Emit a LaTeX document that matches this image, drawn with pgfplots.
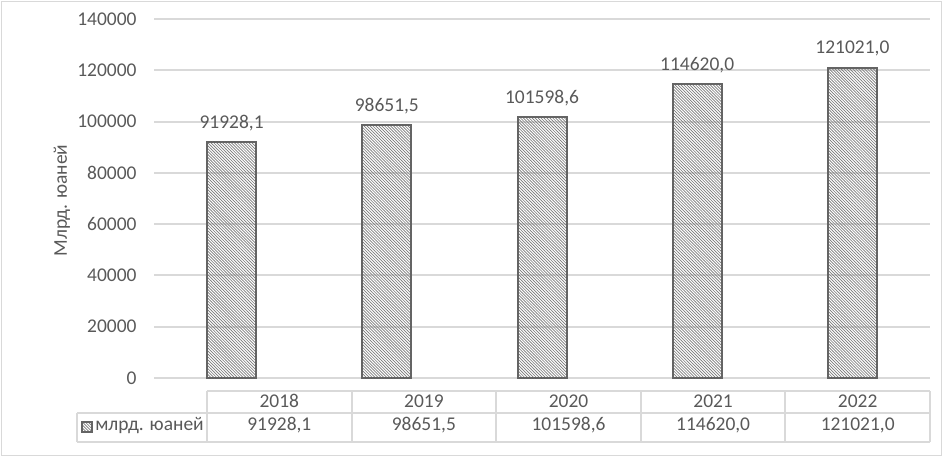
\documentclass[border=0pt]{standalone}
\usepackage{fontspec}
\setmainfont{Carlito}
\usepackage{pgfplots}
\usepackage{pgfplotstable}
\pgfplotsset{compat=1.18}
\usetikzlibrary{patterns.meta}
\definecolor{txt}{HTML}{595959}
\definecolor{gridc}{HTML}{D9D9D9}
\definecolor{barline}{HTML}{646464}
\definecolor{hatch}{HTML}{7A7A7A}
\tikzdeclarepattern{
  name=dhatch,
  type=uncolored,
  bottom left={(-.1pt,-.1pt)},
  top right={(2.3pt,2.3pt)},
  tile size={(2.2pt,2.2pt)},
  code={
    \pgfsetlinewidth{0.5pt}
    \pgfpathmoveto{\pgfqpoint{-0.1pt}{2.3pt}}
    \pgfpathlineto{\pgfqpoint{2.3pt}{-0.1pt}}
    \pgfusepath{stroke}
  }
}

\pgfplotstableread{
x y label
0 91928.1 91928,1
1 98651.5 98651,5
2 101598.6 101598,6
3 114620.0 114620,0
4 121021.0 121021,0
}\datatab

\begin{document}
\fontsize{14.6}{17.5}\selectfont
\begin{tikzpicture}
\begin{scope}[x=0.75pt,y=-0.75pt]
\useasboundingbox (0,0) rectangle (944,457);
\draw[gridc, line width=0.75pt] (1.5,1.5) rectangle (941,455.5);
\end{scope}
\begin{axis}[
  at={(115.5pt,-283.5pt)}, anchor=south west,
  scale only axis, width=582pt, height=269.25pt,
  xmin=-0.5, xmax=4.5, ymin=0, ymax=140000,
  ytick={0,20000,40000,60000,80000,100000,120000,140000},
  xtick=\empty,
  ymajorgrids, grid style={gridc, line width=1.5pt},
  axis line style={draw=none},
  major tick length=0pt,
  yticklabel style={text=txt, font=\fontsize{14.6}{17.5}\selectfont, xshift=-8pt,
    /pgf/number format/fixed, /pgf/number format/1000 sep={}, /pgf/number format/assume math mode=true},
  scaled y ticks=false,
  ybar, bar width=36.75pt,
  nodes near coords, point meta=explicit symbolic,
  every node near coord/.append style={text=txt, font=\fontsize{14.6}{17.5}\selectfont, anchor=base, yshift=10.5pt},
  clip=false,
]
\addplot[draw=barline, line width=1.5pt, pattern=dhatch, pattern color=hatch] table[x=x,y=y,meta=label]{\datatab};
\end{axis}
\begin{scope}[x=0.75pt,y=-0.75pt]
\node[rotate=90, text=txt, font=\fontsize{14.6}{17.5}\selectfont] at (62,200.5) {Млрд. юаней};
% data table
\draw[gridc, line width=1.5pt] (207,391) -- (930,391);
\draw[gridc, line width=1.5pt] (77,413) -- (930,413);
\draw[gridc, line width=1.5pt] (77,442) -- (930,442);
\draw[gridc, line width=1.5pt] (77,413) -- (77,442);
\foreach \xx in {207,351.6,496.2,640.8,785.4,930} {
  \draw[gridc, line width=1.5pt] (\xx,391) -- (\xx,442);
}
\foreach \cx/\yr/\val in {279.3/2018/{91928,1},423.9/2019/{98651,5},568.5/2020/{101598,6},713.1/2021/{114620,0},857.7/2022/{121021,0}} {
  \node[anchor=base, text=txt, inner sep=0pt] at (\cx,407.5) {\yr};
  \node[anchor=base, text=txt, inner sep=0pt] at (\cx,430) {\val};
}
\draw[barline, line width=0.9pt, pattern=dhatch, pattern color=hatch] (82,422) rectangle (92,432);
\node[anchor=base west, text=txt, inner sep=0pt] at (95,430.5) {млрд. юаней};
\end{scope}
\end{tikzpicture}
\end{document}
